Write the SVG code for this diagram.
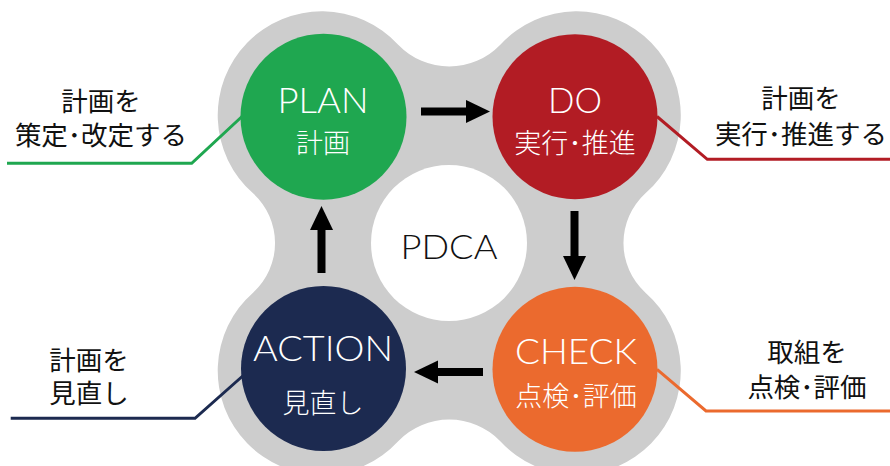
<svg xmlns="http://www.w3.org/2000/svg" width="890" height="466" viewBox="0 0 890 466">
<style>
.lat{font-family:Lato,"Noto Sans","Noto Sans CJK JP",sans-serif;font-weight:300;fill:#fff;text-anchor:middle}
.jp{font-family:"Noto Sans CJK JP",sans-serif;font-weight:300;fill:#fff;text-anchor:middle;font-size:27px}
.cap{font-family:"Noto Sans CJK JP",sans-serif;fill:#111;text-anchor:middle;font-size:26.5px}
.ln{fill:none;stroke-width:3}
.arr{stroke:#000;stroke-width:8;fill:none}
</style>
<defs>
<marker id="ah" markerWidth="3" markerHeight="3" refX="0" refY="1.25" orient="auto" markerUnits="strokeWidth" viewBox="0 0 2.6 2.5"><path d="M0,0 L2.6,1.25 L0,2.5 Z" fill="#000"/></marker>
</defs>
<rect width="890" height="466" fill="#fff"/>
<path id="blob" fill="#cdcdcd" d="M398.2,44.8 A71,71 0 0 0 500.3,44.8 A104,104 0 1 1 645.2,193.6 A67,67 0 0 0 645.2,292.4 A104,104 0 1 1 500.3,441.2 A71,71 0 0 0 398.2,441.2 A104,104 0 1 1 253.3,292.4 A67,67 0 0 0 253.3,193.6 A104,104 0 1 1 398.2,44.8 Z"/>
<g id="center">
<circle cx="449" cy="243" r="78" fill="#fff"/>
<text x="449" y="259" font-size="34" class="lat" style="fill:#111" textLength="97" lengthAdjust="spacingAndGlyphs">PDCA</text>
</g>
<g id="connectors">
<line class="arr" x1="421" y1="111.5" x2="466" y2="111.5" marker-end="url(#ah)"/>
<line class="arr" x1="574.5" y1="211" x2="574.5" y2="256" marker-end="url(#ah)"/>
<line class="arr" x1="483" y1="372" x2="438" y2="372" marker-end="url(#ah)"/>
<line class="arr" x1="321.5" y1="273" x2="321.5" y2="230" marker-end="url(#ah)"/>
<polyline class="ln" stroke="#1fa750" points="7,163.3 191.7,163.3 242,116.5"/>
<polyline class="ln" stroke="#b21c24" points="890,159.3 707.3,159.3 657,116.5"/>
<polyline class="ln" stroke="#1c2a50" points="10.7,418.3 195,418.3 242.7,376"/>
<polyline class="ln" stroke="#eb6a2e" points="890,411 706,411 657,369.3"/>
</g>
<g id="plan">
<circle cx="323.5" cy="116.7" r="83" fill="#1fa750"/>
<text x="323" y="113" font-size="36" class="lat" textLength="91" lengthAdjust="spacingAndGlyphs">PLAN</text>
<text x="323" y="153" class="jp">計画</text>
</g>
<g id="do">
<circle cx="575" cy="116.7" r="82.5" fill="#b21c24"/>
<text x="575" y="113" font-size="36" class="lat" textLength="54" lengthAdjust="spacingAndGlyphs">DO</text>
<text x="575" y="153" class="jp">実行･推進</text>
</g>
<g id="check">
<circle cx="575" cy="369.3" r="82.5" fill="#eb6a2e"/>
<text x="576" y="364" font-size="35" class="lat" textLength="122" lengthAdjust="spacingAndGlyphs">CHECK</text>
<text x="576" y="406" class="jp">点検･評価</text>
</g>
<g id="action">
<circle cx="323.5" cy="368.5" r="82.5" fill="#1c2a50"/>
<text x="323" y="361" font-size="35" class="lat" textLength="140" lengthAdjust="spacingAndGlyphs">ACTION</text>
<text x="323" y="413" class="jp">見直し</text>
</g>
<g id="cap-plan">
<text x="101" y="111" class="cap">計画を</text>
<text x="101" y="145" class="cap">策定･改定する</text>
</g>
<g id="cap-do">
<text x="801" y="108" class="cap">計画を</text>
<text x="801" y="144" class="cap">実行･推進する</text>
</g>
<g id="cap-action">
<text x="89" y="370" class="cap">計画を</text>
<text x="89" y="403" class="cap">見直し</text>
</g>
<g id="cap-check">
<text x="807" y="362" class="cap">取組を</text>
<text x="807" y="397" class="cap">点検･評価</text>
</g>
</svg>
